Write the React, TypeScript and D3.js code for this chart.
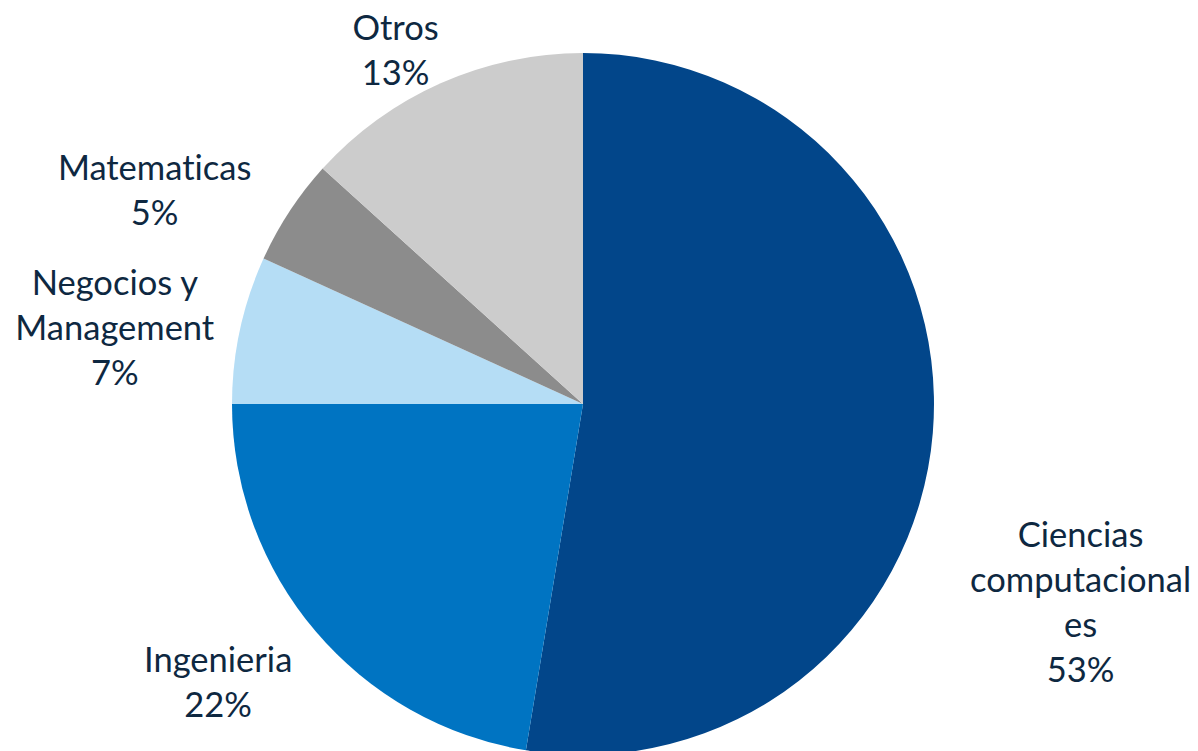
import * as d3 from "d3";

const categories = ["Ciencias computacionales", "Ingenieria", "Negocios y Management", "Matematicas", "Otros"];
const shares = [52.6, 22.4, 6.8, 4.9, 13.3];
const labelLines = [
  ["Ciencias", "computacional", "es"],
  ["Ingenieria"],
  ["Negocios y", "Management"],
  ["Matematicas"],
  ["Otros"],
];
const colors = ["#02468A", "#0074C2", "#B5DDF5", "#8C8C8C", "#CCCCCC"];

const W = 1198;
const H = 751;
const cx = 583;
const cy = 404;
const radius = 351;
const labelRadius = 430;
const lineHeight = 45;
// shift of each label block from the label-arc centroid (Excel keeps labels inside the chart area)
const labelShift: Record<string, [number, number]> = {
  "Ciencias computacionales": [69, 162],
  Ingenieria: [-37, -1],
  "Negocios y Management": [-48, 14],
  Matematicas: [-69, 21],
  Otros: [-13, 38],
};

export default function App() {
  const data = categories.map((c, i) => ({ name: c, value: shares[i], lines: labelLines[i], color: colors[i] }));
  const pie = d3.pie<any>().sort(null).value((d) => d.value);
  const arcs = pie(data);
  const arc = d3.arc<any>().innerRadius(0).outerRadius(radius);
  const labelArc = d3.arc<any>().innerRadius(labelRadius).outerRadius(labelRadius);
  const total = d3.sum(shares);

  return (
    <svg width={W} height={H} style={{ position: "absolute", left: 0, top: 0 }}>
      <g transform={`translate(${cx},${cy})`}>
        {arcs.map((a, i) => (
          <path key={i} d={arc(a) as string} fill={a.data.color} />
        ))}
        {arcs.map((a, i) => {
          const [x, y] = labelArc.centroid(a);
          const [sx, sy] = labelShift[a.data.name];
          const lines = [...a.data.lines, `${Math.round((a.data.value / total) * 100)}%`];
          const top = y + sy - ((lines.length - 1) * lineHeight) / 2;
          return (
            <text
              key={`l${i}`}
              textAnchor="middle"
              fill="#0E2841"
              style={{
                fontFamily: "Lato, 'Open Sans', sans-serif",
                fontSize: 34.5,
                fontVariantLigatures: "none",
              }}
            >
              {lines.map((t, j) => (
                <tspan key={j} x={x + sx} y={top + j * lineHeight} dominantBaseline="central">
                  {t}
                </tspan>
              ))}
            </text>
          );
        })}
      </g>
    </svg>
  );
}
